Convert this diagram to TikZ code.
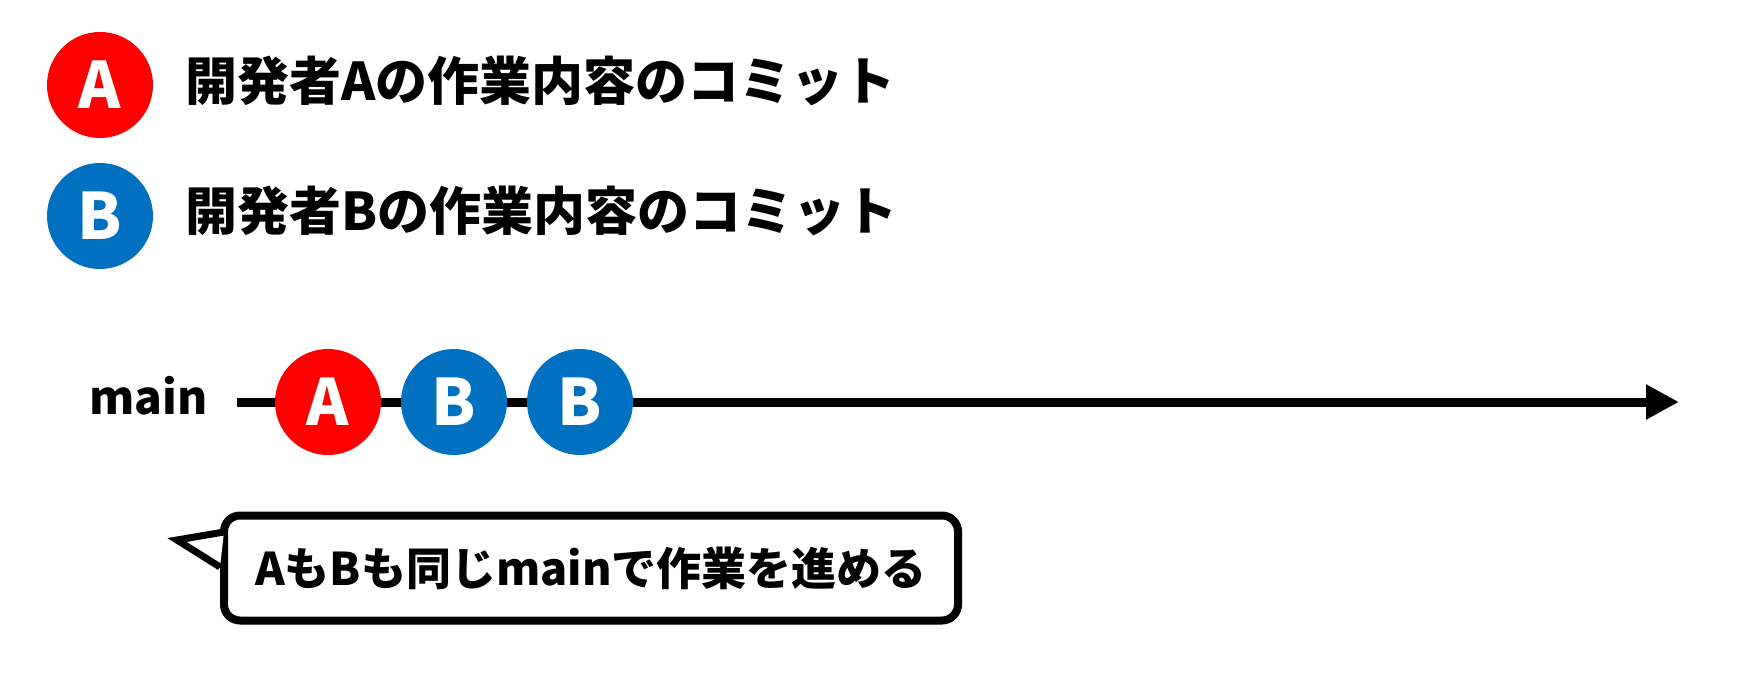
\documentclass[tikz,border=0pt]{standalone}
\usepackage{fontspec}
\setmainfont{Noto Sans CJK JP}
\usetikzlibrary{arrows.meta}
\definecolor{cred}{HTML}{FF0000}
\definecolor{cblue}{HTML}{0070C0}
\begin{document}
\begin{tikzpicture}[x=1pt,y=-1pt,
  commit/.style={circle, minimum size=106pt, inner sep=0pt, text=white,
    font=\fontsize{64}{64}\selectfont\bfseries},
  legendtext/.style={anchor=west, inner sep=0pt,
    font=\fontsize{52}{60}\selectfont\bfseries},
  branchline/.style={line width=9pt},
  calloutbox/.style={draw, line width=8pt, fill=white, rounded corners=16pt,
    minimum width=734pt, minimum height=105pt, inner sep=0pt,
    font=\fontsize{45}{54}\selectfont\bfseries}
]
\useasboundingbox[fill=white] (0,0) rectangle (1741,676);
% legend
\node[commit, fill=cred] (la) at (100,85) {A};
\node[commit, fill=cblue] (lb) at (100,216) {B};
\node[legendtext] (lta) at (185,81) {開発者Aの作業内容のコミット};
\node[legendtext] (ltb) at (185,211) {開発者Bの作業内容のコミット};
% main branch
\node[anchor=base east, inner sep=0pt, font=\fontsize{46}{54}\selectfont\bfseries] (main) at (208,414) {main};
\coordinate (start) at (237,402);
\coordinate (end) at (1679,402);
\draw[branchline, -{Triangle[length=33pt,width=33pt]}] (start) -- (end);
\node[commit, fill=cred] (c1) at (328,402) {A};
\node[commit, fill=cblue] (c2) at (454,402) {B};
\node[commit, fill=cblue] (c3) at (580,402) {B};
% callout
\node[calloutbox] (note) at (591,568) {AもBも同じmainで作業を進める};
\coordinate (tip) at (177,540);
\filldraw[fill=white, line width=7pt, line join=miter] ([yshift=36pt]note.west) ++(4,0) coordinate (t1) -- (tip) -- ([yshift=1pt]note.west) ++(4,0) coordinate (t2);
\end{tikzpicture}
\end{document}
